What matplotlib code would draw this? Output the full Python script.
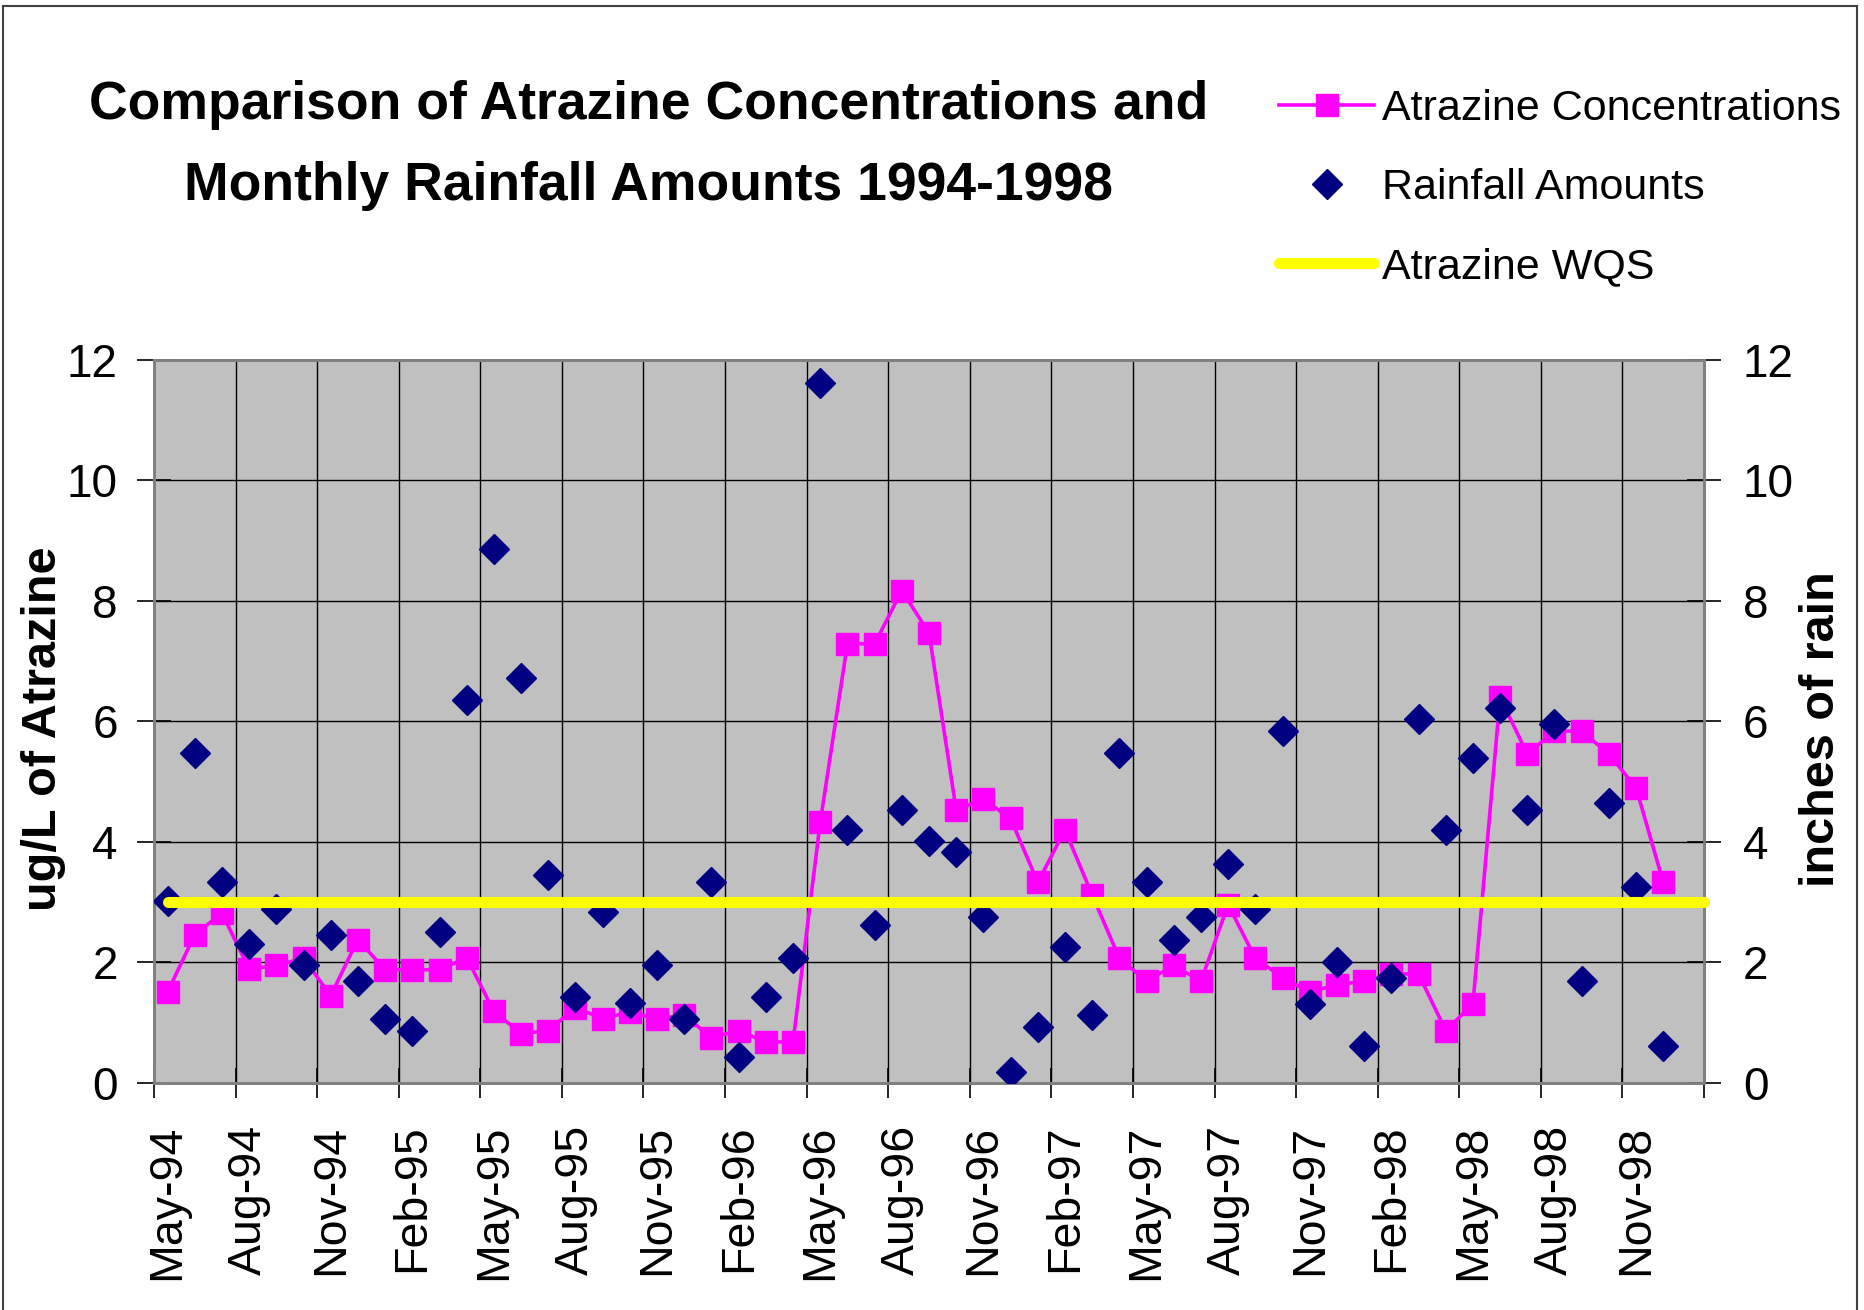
import numpy as np
import matplotlib
matplotlib.use('Agg')
from matplotlib import pyplot as plt
from matplotlib import font_manager
from matplotlib.patches import Rectangle

# monthly values, May-94 .. Dec-98
atrazine = [1.51, 2.46, 2.82, 1.89, 1.95, 2.07, 1.45, 2.38, 1.88, 1.88, 1.88, 2.08,
            1.19, 0.82, 0.87, 1.25, 1.07, 1.18, 1.06, 1.13, 0.75, 0.87, 0.68, 0.68,
            4.33, 7.29, 7.29, 8.17, 7.47, 4.53, 4.71, 4.39, 3.33, 4.20, 3.12, 2.07,
            1.69, 1.95, 1.69, 2.96, 2.07, 1.75, 1.51, 1.63, 1.69, 1.81, 1.81, 0.87,
            1.31, 6.40, 5.46, 5.84, 5.84, 5.46, 4.90, 3.33]
rainfall = [3.02, 5.47, 3.33, 2.31, 2.88, 1.95, 2.46, 1.69, 1.06, 0.87, 2.51, 6.35,
            8.86, 6.72, 3.45, 1.43, 2.83, 1.32, 1.95, 1.06, 3.33, 0.43, 1.43, 2.07,
            11.62, 4.20, 2.63, 4.53, 4.01, 3.83, 2.76, 0.18, 0.93, 2.25, 1.13, 5.47,
            3.33, 2.38, 2.76, 3.64, 2.88, 5.85, 1.31, 2.01, 0.62, 1.75, 6.04, 4.20,
            5.40, 6.23, 4.53, 5.96, 1.69, 4.65, 3.26, 0.62]
wqs = 3.0
tick_labels = ['May-94', 'Aug-94', 'Nov-94', 'Feb-95', 'May-95', 'Aug-95', 'Nov-95',
               'Feb-96', 'May-96', 'Aug-96', 'Nov-96', 'Feb-97', 'May-97', 'Aug-97',
               'Nov-97', 'Feb-98', 'May-98', 'Aug-98', 'Nov-98']
n_slots = 57  # axis runs May-94 .. Jan-99

def has_font(name):
    try:
        font_manager.findfont(font_manager.FontProperties(family=name), fallback_to_default=False)
        return True
    except Exception:
        return False

plt.rcParams['font.family'] = ['Liberation Sans', 'DejaVu Sans']
if has_font('Liberation Sans Narrow'):
    title_font = dict(family='Liberation Sans Narrow', size=46)
else:
    title_font = dict(family='Liberation Sans', size=38.5)

x = np.arange(len(atrazine)) + 0.5

fig = plt.figure(figsize=(18.64, 13.10), dpi=100)
ax = fig.add_axes([0.0826, 0.1733, 0.8316, 0.5519])
ax.set_facecolor('#C0C0C0')
ax2 = ax.twinx()

l1, = ax.plot(x, atrazine, color='#FF00FF', lw=2.6, marker='s', markersize=16.5,
              markeredgecolor='#FF00FF', zorder=3, label='Atrazine Concentrations')
l2, = ax2.plot(x, rainfall, linestyle='none', marker='D', markersize=15.5,
               color='#000080', zorder=3, label='Rainfall Amounts')
l3, = ax2.plot([x[0], n_slots], [wqs, wqs], color='#FFFF00', lw=8, solid_capstyle='round',
               zorder=4, clip_on=False, label='Atrazine WQS')

for a in (ax, ax2):
    a.set_xlim(0, n_slots)
    a.set_ylim(0, 12)
    a.set_yticks(range(0, 13, 2))
    for s in a.spines.values():
        s.set_color('#808080')
        s.set_linewidth(2)

ax.set_xticks(np.arange(0, n_slots + 1, 3))
ax.set_xticklabels([])
ax.set_xticks(np.arange(0, n_slots, 3) + 0.5, minor=True)
ax.set_xticklabels(tick_labels, minor=True, rotation=90, fontsize=33.5, va='top')
ax.tick_params(axis='x', which='major', direction='inout', length=22, width=1.2, color='black')
ax.tick_params(axis='x', which='minor', length=0, pad=30)
ax.tick_params(axis='y', direction='inout', length=24, width=1.2, labelsize=33, pad=14, color='black')
ax2.tick_params(axis='y', direction='inout', length=24, width=1.2, labelsize=33, pad=16, color='black')
ax.grid(True, which='major', color='black', lw=1)

ax.set_ylabel('ug/L of Atrazine', fontsize=35, fontweight='bold', va='center')
ax2.set_ylabel('inches of rain', fontsize=35, fontweight='bold', va='center', rotation=90)
ax.yaxis.set_label_coords(-0.071, 0.49)
ax2.yaxis.set_label_coords(1.0755, 0.49)

ax.set_zorder(1)
ax2.set_zorder(2)
ax2.patch.set_visible(False)

fig.text(0.348, 0.920, 'Comparison of Atrazine Concentrations and', ha='center', va='center',
         fontweight='bold', **title_font)
fig.text(0.348, 0.858, 'Monthly Rainfall Amounts 1994-1998', ha='center', va='center',
         fontweight='bold', **title_font)

fig.legend(handles=[l1, l2, l3], loc='upper left', bbox_to_anchor=(0.677, 0.945),
           frameon=False, fontsize=31, handlelength=2.2, handletextpad=0.2,
           labelspacing=0.9, borderaxespad=0)

fig.add_artist(Rectangle((0.0016, -0.05), 0.9946, 1.0454, transform=fig.transFigure,
                         fill=False, edgecolor='#404040', lw=1.5))

fig.savefig('out.png', dpi=100)
